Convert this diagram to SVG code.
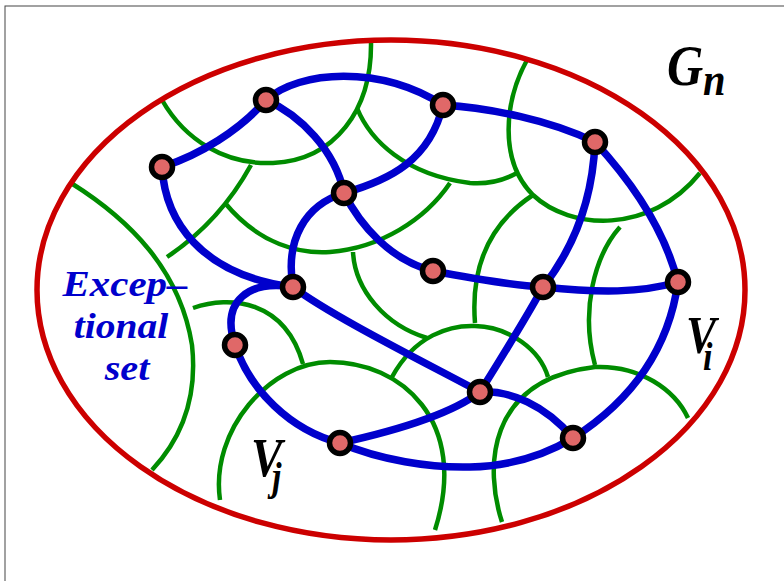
<svg xmlns="http://www.w3.org/2000/svg" width="784" height="581" viewBox="0 0 784 581">
<style>
.g{fill:none;stroke:#008c00;stroke-width:4.5}
.e{fill:none;stroke:#0000cc;stroke-width:7.5;stroke-linecap:round}
.n{fill:#e06868;stroke:#000;stroke-width:5.5}
.lab{font-family:"Liberation Serif","Times New Roman",serif;font-style:italic;font-weight:bold}
</style>
<rect x="5" y="6" width="800" height="600" fill="none" stroke="#444" stroke-width="1"/>
<g id="regions">
<path class="g" d="M162,100 C185,140 225,165 273,163 C335,160 372,110 371,42"/>
<path class="g" d="M251,165 C240,185 215,225 167,257"/>
<path class="g" d="M225,203 C260,245 300,254 330,252 C380,248 425,220 450,183"/>
<path class="g" d="M357,108 C370,140 405,175 470,183 Q495,185 517,173"/>
<path class="g" d="M527,60 C505,100 498,160 533,195 C570,230 650,235 700,173"/>
<path class="g" d="M533,195 C495,220 470,260 475,323"/>
<path class="g" d="M620,227 C595,255 580,310 595,365"/>
<path class="g" d="M502,522 C485,470 485,380 595,367 C640,365 675,390 688,418"/>
<path class="g" d="M392,377 C415,335 450,325 475,326 C510,327 540,350 548,377"/>
<path class="g" d="M353,252 C355,290 385,325 427,338"/>
<path class="g" d="M220,500 C210,430 270,362 330,362 C400,362 470,420 435,530"/>
<path class="g" d="M193,308 C230,295 285,300 303,364"/>
<path class="g" d="M71,183 C130,220 180,270 192,345 C198,400 180,440 152,470"/>
</g>
<ellipse id="Gn" cx="391" cy="290" rx="354" ry="250" fill="none" stroke="#cc0000" stroke-width="5.5"/>
<g id="connectors">
<path class="e" d="M162,167 C200,155 240,130 266,100"/>
<path class="e" d="M266,100 C300,70 380,65 443,105"/>
<path class="e" d="M443,105 C490,108 550,120 595,142"/>
<path class="e" d="M595,142 C630,180 665,230 678,283"/>
<path class="e" d="M595,142 C593,190 580,240 543,287"/>
<path class="e" d="M433,271 C470,278 510,285 543,287 C600,293 640,293 678,282"/>
<path class="e" d="M678,282 C670,340 640,395 573,438"/>
<path class="e" d="M480,392 C500,360 525,320 543,287"/>
<path class="e" d="M480,392 C510,390 545,405 573,438"/>
<path class="e" d="M340,443 C390,432 450,415 480,392"/>
<path class="e" d="M340,443 C380,460 430,468 470,467 C510,466 545,455 573,438"/>
<path class="e" d="M293,287 C330,315 420,360 480,392"/>
<path class="e" d="M293,287 C250,280 220,300 235,345"/>
<path class="e" d="M162,167 C165,220 200,275 293,287"/>
<path class="e" d="M235,345 C250,390 290,430 340,443"/>
<path class="e" d="M266,100 C300,115 335,150 344,193"/>
<path class="e" d="M344,193 C390,180 430,160 443,105"/>
<path class="e" d="M344,193 C305,205 285,240 293,287"/>
<path class="e" d="M344,193 C360,225 390,260 433,271"/>
</g>
<g id="node1"><circle class="n" cx="266" cy="100" r="10.5"/></g>
<g id="node2"><circle class="n" cx="443" cy="105" r="10.5"/></g>
<g id="node3"><circle class="n" cx="595" cy="142" r="10.5"/></g>
<g id="node4"><circle class="n" cx="162" cy="167" r="10.5"/></g>
<g id="node5"><circle class="n" cx="344" cy="193" r="10.5"/></g>
<g id="node6"><circle class="n" cx="433" cy="271" r="10.5"/></g>
<g id="node7"><circle class="n" cx="543" cy="287" r="10.5"/></g>
<g id="node8"><circle class="n" cx="678" cy="282" r="10.5"/></g>
<g id="node9"><circle class="n" cx="293" cy="287" r="10.5"/></g>
<g id="node10"><circle class="n" cx="235" cy="345" r="10.5"/></g>
<g id="node11"><circle class="n" cx="480" cy="392" r="10.5"/></g>
<g id="node12"><circle class="n" cx="340" cy="443" r="10.5"/></g>
<g id="node13"><circle class="n" cx="573" cy="438" r="10.5"/></g>
<g id="labels">
<text class="lab" transform="translate(667,85) scale(0.88,1)" font-size="57" fill="#000">G</text>
<text class="lab" transform="translate(703,95) scale(0.88,1)" font-size="46" fill="#000">n</text>
<text class="lab" transform="translate(686,353) scale(0.85,1)" font-size="53" fill="#000">V</text>
<text class="lab" transform="translate(703,370) scale(0.85,1)" font-size="40" fill="#000">i</text>
<text class="lab" transform="translate(251,476) scale(0.85,1)" font-size="55" fill="#000">V</text>
<text class="lab" transform="translate(272,490) scale(0.85,1)" font-size="40" fill="#000">j</text>
<g fill="#0000cc" class="lab" font-size="35" text-anchor="middle">
<text transform="translate(125,296) scale(1.17,1)">Excep–</text>
<text transform="translate(121,338) scale(1.13,1)">tional</text>
<text transform="translate(127,380) scale(1.15,1)">set</text>
</g>
</g>
</svg>
